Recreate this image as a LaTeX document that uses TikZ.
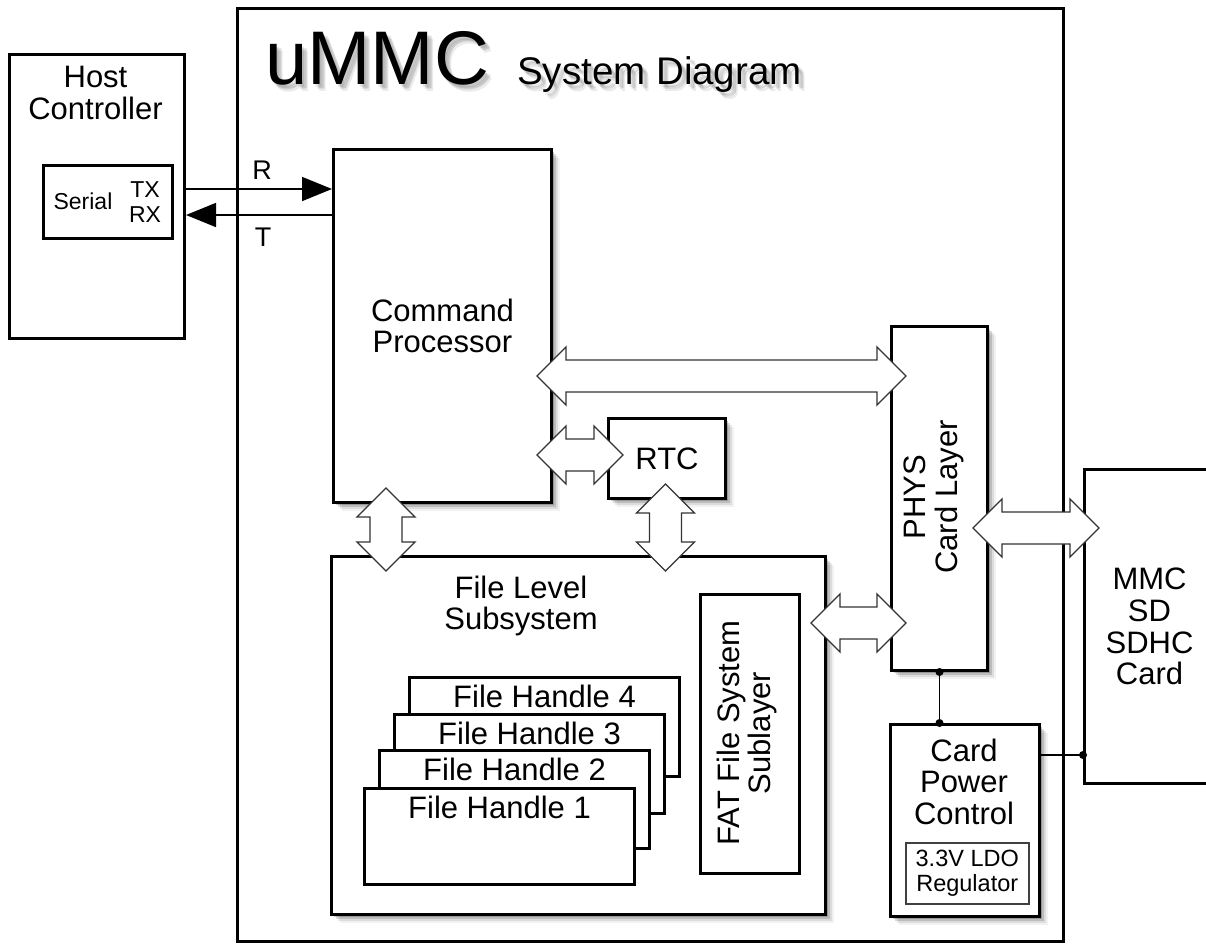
\documentclass[tikz,border=0pt]{standalone}
\usepackage{fontspec}
\setmainfont{Liberation Sans}
\usetikzlibrary{arrows.meta,shadows,calc}

\newcommand\hbus[3]{%
  \coordinate (hbA) at (#1.east |- 0,#3);
  \coordinate (hbB) at (#2.west |- 0,#3);
  \draw[bus] ([shift={(-16pt,0pt)}]hbA) -- ([shift={(13pt,29pt)}]hbA) -- ([shift={(13pt,16pt)}]hbA)
    -- ([shift={(-13pt,16pt)}]hbB) -- ([shift={(-13pt,29pt)}]hbB) -- ([shift={(16pt,0pt)}]hbB)
    -- ([shift={(-13pt,-29pt)}]hbB) -- ([shift={(-13pt,-16pt)}]hbB)
    -- ([shift={(13pt,-16pt)}]hbA) -- ([shift={(13pt,-29pt)}]hbA) -- cycle;
}
\newcommand\vbus[3]{%
  \coordinate (vbA) at (#1.south -| #3,0);
  \coordinate (vbB) at (#2.north -| #3,0);
  \draw[bus] ([shift={(0pt,16pt)}]vbA) -- ([shift={(29pt,-13pt)}]vbA) -- ([shift={(16pt,-13pt)}]vbA)
    -- ([shift={(16pt,13pt)}]vbB) -- ([shift={(29pt,13pt)}]vbB) -- ([shift={(0pt,-16pt)}]vbB)
    -- ([shift={(-29pt,13pt)}]vbB) -- ([shift={(-16pt,13pt)}]vbB)
    -- ([shift={(-16pt,-13pt)}]vbA) -- ([shift={(-29pt,-13pt)}]vbA) -- cycle;
}

\begin{document}
\begin{tikzpicture}[x=1pt,y=-1pt,
  box/.style={draw=black, line width=3pt, fill=white, inner sep=0pt, anchor=north west,
    font=\fontsize{31}{31.5}\selectfont, align=center},
  shd/.style={drop shadow={shadow xshift=2pt,shadow yshift=-2pt,opacity=.2,fill=black},
    drop shadow={shadow xshift=4pt,shadow yshift=-4pt,opacity=.14,fill=black},
    drop shadow={shadow xshift=6pt,shadow yshift=-6pt,opacity=.09,fill=black},
    drop shadow={shadow xshift=8pt,shadow yshift=-8pt,opacity=.05,fill=black}},
  sbox/.style={box, shd},
  lbl/.style={font=\fontsize{31}{31.5}\selectfont, align=center, inner sep=0pt},
  small/.style={font=\fontsize{23}{25}\selectfont, align=center, inner sep=0pt},
  siglbl/.style={font=\fontsize{27}{28}\selectfont, inner sep=0pt},
  bus/.style={draw=black!80, fill=white, line width=1.3pt, line join=miter},
  sig/.style={line width=1.6pt, -{Triangle[length=30pt,width=24pt]}},
  wire/.style={line width=1.4pt},
  dot/.style={circle, fill=black, inner sep=0pt, minimum size=8pt},
  tshadow/.style={text=black, opacity=.08, inner sep=0pt, anchor=base west}
]
\useasboundingbox (0,0) rectangle (1206,943);

% outer system box
\node[box, minimum width=826pt, minimum height=933pt] (ummc) at (236,7) {};

% title with soft shadow
\foreach \dx/\dy [count=\i] in {2/3,4/5,6/7,5/4} {
  \node[tshadow, font=\fontsize{76}{76}\selectfont] (tsa\i) at (265+\dx,84+\dy) {uMMC};
  \node[tshadow, font=\fontsize{38.5}{38.5}\selectfont] (tsb\i) at (517+\dx,84+\dy) {System Diagram};
}
\node[anchor=base west, inner sep=0pt, font=\fontsize{76}{76}\selectfont] (title) at (265,84) {uMMC};
\node[anchor=base west, inner sep=0pt, font=\fontsize{38.5}{38.5}\selectfont] (subtitle) at (517,84) {System Diagram};

% host controller
\node[box, minimum width=175pt, minimum height=284pt] (host) at (8,53) {};
\node[lbl] (hostlbl) at (95.5,93) {Host\\Controller};
\node[box, line width=2.5pt, minimum width=129pt, minimum height=73pt] (serial) at (42,164) {};
\node[small] (seriallbl) at (83,201.6) {Serial};
\node[small] (txrx) at (145,201.8) {TX\\RX};

% main blocks
\node[sbox, minimum width=218pt, minimum height=353pt] (cp) at (332,148) {Command\\Processor};
\node[sbox, minimum width=117pt, minimum height=80pt] (rtc) at (607,417) {RTC};
\node[sbox, minimum width=494pt, minimum height=358pt] (fl) at (330,555) {};
\node[lbl] (fllbl) at (521,606) {File Level\\Subsystem};
\node[box, minimum width=99pt, minimum height=279pt] (fat) at (699,593) {};
\node[lbl, rotate=90] (fatlbl) at (747,733) {FAT File System\\Sublayer};

\node[box, minimum width=270pt, minimum height=99pt] (fh4) at (408,676) {};
\node[lbl, anchor=base] (fh4lbl) at ([yshift=-31pt]fh4.north) {File Handle 4};
\node[box, minimum width=270pt, minimum height=99pt] (fh3) at (393,713) {};
\node[lbl, anchor=base] (fh3lbl) at ([yshift=-31pt]fh3.north) {File Handle 3};
\node[box, minimum width=270pt, minimum height=98pt] (fh2) at (378,749) {};
\node[lbl, anchor=base] (fh2lbl) at ([yshift=-31pt]fh2.north) {File Handle 2};
\node[box, minimum width=270pt, minimum height=96pt] (fh1) at (363,787) {};
\node[lbl, anchor=base] (fh1lbl) at ([yshift=-31pt]fh1.north) {File Handle 1};

\node[sbox, minimum width=96pt, minimum height=344pt] (phys) at (890,325) {};
\node[lbl, rotate=90] (physlbl) at (934,497) {PHYS\\Card Layer};

\node[sbox, minimum width=149pt, minimum height=192pt] (cpc) at (889,723) {};
\node[lbl] (cpclbl) at (964,781.5) {Card\\Power\\Control};
\node[box, draw=black!75, line width=1.5pt, minimum width=123pt, minimum height=61pt,
  font=\fontsize{23.5}{24.5}\selectfont] (ldo) at (905,842) {3.3V LDO\\Regulator};

% card (extends past the right edge)
\node[box, minimum width=130pt, minimum height=314pt, font=\fontsize{31}{31.7}\selectfont] (card) at (1083,468) {MMC\\SD\\SDHC\\Card};

% serial signals
\draw[sig] (host.east |- 0,189) -- (cp.west |- 0,189);
\draw[sig] (cp.west |- 0,215) -- (host.east |- 0,215);
\node[siglbl] (rlbl) at (262,170.5) {R};
\node[siglbl] (tlbl) at (263,237) {T};

% power wiring
\draw[wire] (phys.south) -- (phys.south |- cpc.north);
\node[dot] (d1) at (phys.south) {};
\node[dot] (d2) at (phys.south |- cpc.north) {};
\draw[wire] (cpc.east |- 0,755) -- (card.west |- 0,755);
\node[dot] (d3) at (card.west |- 0,755) {};

% buses
\hbus{cp}{phys}{376}
\hbus{cp}{rtc}{455}
\hbus{fl}{phys}{623}
\hbus{phys}{card}{528}
\vbus{cp}{fl}{386}
\vbus{rtc}{fl}{665.5}
\end{tikzpicture}
\end{document}
